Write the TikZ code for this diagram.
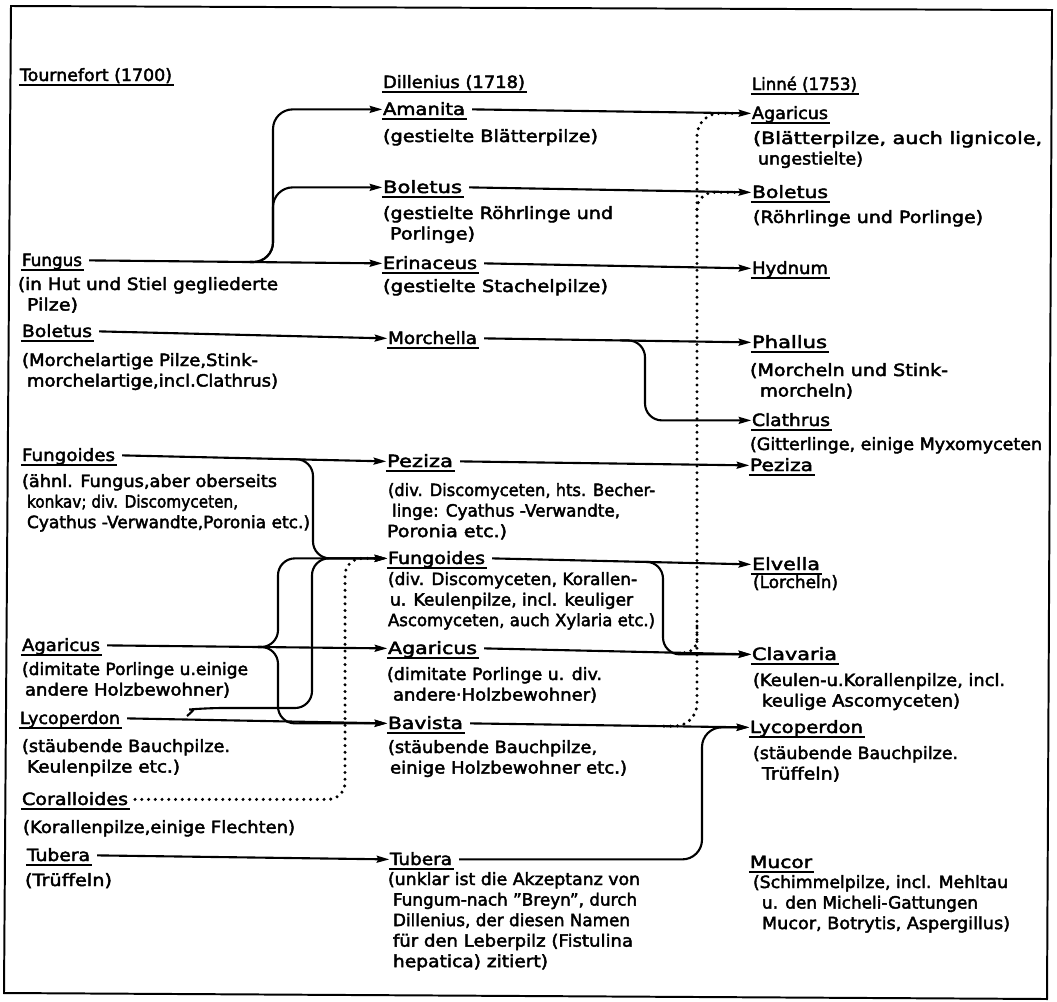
\documentclass[tikz,border=0pt]{standalone}
\usepackage{graphicx}
\usepackage{fontspec}
\setmainfont{DejaVu Sans}[FakeBold=2.5]
\usetikzlibrary{arrows.meta,calc}
\newlength\pxu \setlength\pxu{0.711317pt}
\newsavebox\gnbox
\newcommand\gn[1]{\sbox\gnbox{#1}\rlap{\kern-0.8pt\rule[-3.6pt]{\dimexpr\wd\gnbox+2pt\relax}{1.3pt}}\usebox\gnbox}
\newcommand\fw[2]{\resizebox{#1\pxu}{\height}{#2}}
\newcommand\dl[1]{\vtop{\baselineskip=14.6pt\halign{##\hfil\cr#1\crcr}}}
\begin{document}
\begin{tikzpicture}[x=0.025cm,y=-0.025cm,
  lab/.style={anchor=base west, inner sep=0pt, outer sep=0pt, font=\fontsize{12pt}{14.6pt}\selectfont},
  arr/.style={line width=1.5pt, -{Stealth[length=9pt,width=5pt,inset=1.2pt]}, rounded corners=12pt},
  dots/.style={line width=2.4pt, line cap=round, dash pattern=on 0pt off 4.8pt, rounded corners=12pt},
  frame/.style={line width=1.4pt}]
\useasboundingbox (0,0) rectangle (1057,1001);
\draw[frame] (11,6) -- (4,993) -- (1047,999) -- (1052,10) -- cycle;

% headers
\node[lab] (hT) at (20,81) {\gn{\fw{152}{Tournefort (1700)}}};
\node[lab] (hD) at (383,88) {\gn{\fw{142}{Dillenius (1718)}}};
\node[lab] (hL) at (752,90) {\gn{\fw{105}{Linné (1753)}}};

% column Tournefort
\node[lab] (fungusT) at (22,266) {\gn{\fw{60}{Fungus}}};
\node[lab] (fungusTd) at (18,290) {\dl{\fw{260}{(in Hut und Stiel gegliederte}\cr\kern9\pxu\fw{51}{Pilze)}}};
\node[lab] (boletusT) at (22,337) {\gn{\fw{70}{Boletus}}};
\node[lab] (boletusTd) at (22,366) {\dl{\fw{236}{(Morchelartige Pilze,Stink-}\cr\kern5\pxu\fw{251}{morchelartige,incl.Clathrus)}}};
\node[lab] (fungoidesT) at (22,461) {\gn{\fw{93}{Fungoides}}};
\node[lab] (fungoidesTd) at (22,487) {\dl{\fw{255}{(ähnl. Fungus,aber oberseits}\cr\kern5\pxu\fw{211}{konkav; div. Discomyceten,}\cr\kern5\pxu\fw{283}{Cyathus -Verwandte,Poronia etc.)}}};
\node[lab] (agaricusT) at (22,651) {\gn{\fw{78}{Agaricus}}};
\node[lab] (agaricusTd) at (22,675) {\dl{\fw{226}{(dimitate Porlinge u.einige}\cr\kern3\pxu\fw{205}{andere Holzbewohner)}}};
\node[lab] (lycoperdonT) at (20,724) {\gn{\fw{100}{Lycoperdon}}};
\node[lab] (lycoperdonTd) at (22,752) {\dl{\fw{208}{(stäubende Bauchpilze.}\cr\kern5\pxu\fw{153}{Keulenpilze etc.)}}};
\node[lab] (coralloidesT) at (22,805) {\gn{\fw{106}{Coralloides}}};
\node[lab] (coralloidesTd) at (23,833) {\dl{\fw{272}{(Korallenpilze,einige Flechten)}}};
\node[lab] (tuberaT) at (27,861) {\gn{\fw{63}{Tubera}}};
\node[lab] (tuberaTd) at (25,886) {\dl{\fw{87}{(Trüffeln)}}};

% column Dillenius
\node[lab] (amanitaD) at (383,115) {\gn{\fw{82}{Amanita}}};
\node[lab] (amanitaDd) at (383,142) {\dl{\fw{215}{(gestielte Blätterpilze)}}};
\node[lab] (boletusD) at (383,193) {\gn{\fw{79}{Boletus}}};
\node[lab] (boletusDd) at (383,219) {\dl{\fw{230}{(gestielte Röhrlinge und}\cr\kern7\pxu\fw{85}{Porlinge)}}};
\node[lab] (erinaceusD) at (383,269) {\gn{\fw{94}{Erinaceus}}};
\node[lab] (erinaceusDd) at (383,292) {\dl{\fw{225}{(gestielte Stachelpilze)}}};
\node[lab] (morchellaD) at (388,344) {\gn{\fw{89}{Morchella}}};
\node[lab] (pezizaD) at (387,467) {\gn{\fw{66}{Peziza}}};
\node[lab] (pezizaDd) at (388,496) {\dl{\fw{267}{(div. Discomyceten, hts. Becher-}\cr\kern4\pxu\fw{228}{linge: Cyathus -Verwandte,}\cr\kern-1\pxu\fw{120}{Poronia etc.)}}};
\node[lab] (fungoidesD) at (388,564) {\gn{\fw{97}{Fungoides}}};
\node[lab] (fungoidesDd) at (388,585) {\dl{\fw{249}{(div. Discomyceten, Korallen-}\cr\kern2\pxu\fw{243}{u. Keulenpilze, incl. keuliger}\cr\fw{267}{Ascomyceten, auch Xylaria etc.)}}};
\node[lab] (agaricusD) at (388,654) {\gn{\fw{89}{Agaricus}}};
\node[lab] (agaricusDd) at (387,680) {\dl{\fw{215}{(dimitate Porlinge u. div.}\cr\kern6\pxu\fw{204}{andere·Holzbewohner)}}};
\node[lab] (bavistaD) at (388,729) {\gn{\fw{75}{Bavista}}};
\node[lab] (bavistaDd) at (388,753) {\dl{\fw{209}{(stäubende Bauchpilze,}\cr\kern2\pxu\fw{237}{einige Holzbewohner etc.)}}};
\node[lab] (tuberaD) at (390,865) {\gn{\fw{62}{Tubera}}};
\node[lab] (tuberaDd) at (388,885) {\dl{\fw{252}{(unklar ist die Akzeptanz von}\cr\kern5\pxu\fw{244}{Fungum-nach "Breyn", durch}\cr\kern5\pxu\fw{237}{Dillenius, der diesen Namen}\cr\kern5\pxu\fw{240}{für den Leberpilz (Fistulina}\cr\kern5\pxu\fw{155}{hepatica) zitiert)}}};

% column Linne
\node[lab] (agaricusL) at (752,119) {\gn{\fw{76}{Agaricus}}};
\node[lab] (agaricusLd) at (753,144) {\dl{\fw{289}{(Blätterpilze, auch lignicole,}\cr\kern5\pxu\fw{105}{ungestielte)}}};
\node[lab] (boletusL) at (752,198) {\gn{\fw{76}{Boletus}}};
\node[lab] (boletusLd) at (753,223) {\dl{\fw{230}{(Röhrlinge und Porlinge)}}};
\node[lab] (hydnumL) at (752,274) {\gn{\fw{76}{Hydnum}}};
\node[lab] (phallusL) at (752,348) {\gn{\fw{75}{Phallus}}};
\node[lab] (phallusLd) at (750,376) {\dl{\fw{198}{(Morcheln und Stink-}\cr\kern10\pxu\fw{93}{morcheln)}}};
\node[lab] (clathrusL) at (752,426) {\gn{\fw{78}{Clathrus}}};
\node[lab] (clathrusLd) at (750,450) {\dl{\fw{292}{(Gitterlinge, einige Myxomyceten}}};
\node[lab] (pezizaL) at (750,471) {\gn{\fw{63}{Peziza}}};
\node[lab] (elvellaL) at (752,570) {\gn{\fw{68}{Elvella}}};
\node[lab] (elvellaLd) at (753,588) {\dl{\fw{85}{(Lorcheln)}}};
\node[lab] (clavariaL) at (752,660) {\gn{\fw{85}{Clavaria}}};
\node[lab] (clavariaLd) at (753,686) {\dl{\fw{252}{(Keulen-u.Korallenpilze, incl.}\cr\kern9\pxu\fw{198}{keulige Ascomyceten)}}};
\node[lab] (lycoperdonL) at (750,733) {\gn{\fw{113}{Lycoperdon}}};
\node[lab] (lycoperdonLd) at (753,759) {\dl{\fw{205}{(stäubende Bauchpilze.}\cr\kern9\pxu\fw{78}{Trüffeln)}}};
\node[lab] (mucorL) at (750,868) {\gn{\fw{62}{Mucor}}};
\node[lab] (mucorLd) at (753,888) {\dl{\fw{255}{(Schimmelpilze, incl. Mehltau}\cr\kern9\pxu\fw{216}{u. den Micheli-Gattungen}\cr\kern9\pxu\fw{248}{Mucor, Botrytis, Aspergillus)}}};

% attachment points
\foreach \n in {fungusT,boletusT,fungoidesT,agaricusT,lycoperdonT,coralloidesT,tuberaT,
  amanitaD,boletusD,erinaceusD,morchellaD,pezizaD,fungoidesD,agaricusD,bavistaD,tuberaD,
  agaricusL,boletusL,hydnumL,phallusL,clathrusL,pezizaL,elvellaL,clavariaL,lycoperdonL,mucorL}{
  \coordinate (\n R) at ([xshift=5pt,yshift=4pt]\n.base east);
  \coordinate (\n L) at ([xshift=-0.5pt,yshift=4pt]\n.base west);
}

% branch points on main lines
\coordinate (brF)  at ($(fungusTR)!(250,262)!(erinaceusDL)$);
\coordinate (brFg) at ($(fungoidesTR)!(290,456)!(pezizaDL)$);
\coordinate (brAg) at ($(agaricusTR)!(258,647)!(agaricusDL)$);
\coordinate (brM)  at ($(morchellaDR)!(620,339)!(phallusLL)$);
\coordinate (brFd) at ($(fungoidesDR)!(640,559)!(elvellaLL)$);
\coordinate (bvD)  at ($(bavistaDR)!(664,724)!(lycoperdonLL)$);
\coordinate (agdE) at ($(agaricusDR)!(679,650)!(clavariaLL)$);
\coordinate (lycS) at (187,716);
\coordinate (bolS) at (697,216);
\coordinate (agdS) at (697,626);
\coordinate (fgM)  at ([xshift=-8pt]fungoidesDL);
\coordinate (agLM) at ([xshift=-9pt]agaricusLL);
\coordinate (bolLM) at ([xshift=-9pt]boletusLL);

% Tournefort -> Dillenius
\draw[arr] (fungusTR) -- (erinaceusDL);
\draw[arr,rounded corners=14pt] (brF) -- (273,0 |- brF) -- (273,0 |- amanitaDL) -- (amanitaDL);
\draw[arr,rounded corners=14pt] (brF) -- (273,0 |- brF) -- (273,0 |- boletusDL) -- (boletusDL);
\draw[arr] (boletusTR) -- (morchellaDL);
\draw[arr] (fungoidesTR) -- (pezizaDL);
\draw[arr] (brFg) -- (313,0 |- brFg) -- (313,0 |- fungoidesDL) -- (fungoidesDL);
\draw[arr] (agaricusTR) -- (agaricusDL);
\draw[arr] (brAg) -- (278,0 |- brAg) -- (278,0 |- fungoidesDL) -- (fungoidesDL);
\draw[arr] (brAg) -- (278,0 |- brAg) -- (278,0 |- bavistaDL) -- (bavistaDL);
\draw[arr] (lycoperdonTR) -- (bavistaDL);
\draw[arr] (lycS) .. controls (195,709) .. (206,708) -- (312,708) -- (312,0 |- fungoidesDL) -- (fungoidesDL);
\draw[dots] (coralloidesTR) -- (345,0 |- coralloidesTR) -- (345,0 |- fungoidesDL) -- (fgM);
\draw[arr] (tuberaTR) -- (tuberaDL);

% Dillenius -> Linne
\draw[arr] (amanitaDR) -- (agaricusLL);
\draw[arr] (boletusDR) -- (boletusLL);
\draw[arr] (erinaceusDR) -- (hydnumLL);
\draw[arr] (morchellaDR) -- (phallusLL);
\draw[arr] (brM) -- (645,0 |- brM) -- (645,0 |- clathrusLL) -- (clathrusLL);
\draw[arr] (pezizaDR) -- (pezizaLL);
\draw[arr] (fungoidesDR) -- (elvellaLL);
\draw[arr] (brFd) -- (663,0 |- brFd) -- (663,0 |- clavariaLL) -- (clavariaLL);
\draw[arr] (agaricusDR) -- (clavariaLL);
\draw[arr] (bavistaDR) -- (lycoperdonLL);
\draw[arr,rounded corners=14pt] (tuberaDR) -- (702,0 |- tuberaDR) -- (702,0 |- lycoperdonLL) -- (lycoperdonLL);

% dotted links
\draw[dots,rounded corners=16pt] (bvD) -- (697,0 |- bvD) -- (697,0 |- agaricusLL) -- (agLM);
\draw[dots] (bolS) -- (697,0 |- boletusLL) -- (bolLM);
\draw[dots,rounded corners=9pt] (agdS) -- (697,0 |- agdE) -- (agdE);
\end{tikzpicture}
\end{document}
